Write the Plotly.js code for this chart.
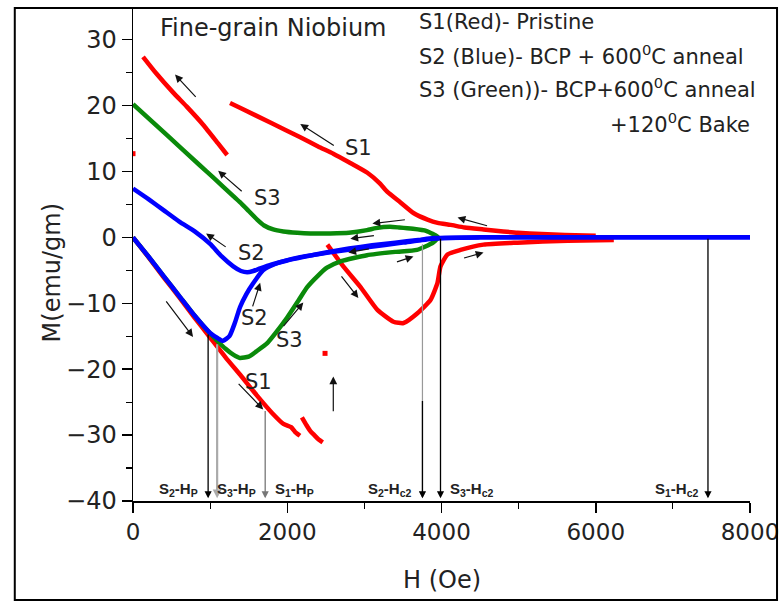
<!DOCTYPE html>
<html><head><meta charset="utf-8">
<script src="https://cdn.plot.ly/plotly-3.0.1.min.js"></script>
<style>html,body{margin:0;padding:0;background:#fff}#chart{width:782px;height:606px}</style>
</head><body><div id="chart"></div><script>
// ---- S1 (red, pristine) ----
const s1VirginH = [0,200,400,600,800,1000,1200,1400,1600,1800,1950,2050,2100,2165];
const s1VirginM = [0,-3.0,-6.1,-9.1,-12.2,-15.2,-18.2,-21.0,-23.9,-26.6,-28.3,-28.8,-29.5,-30.1];
const s1TailH = [2190,2250,2300,2350,2400,2460];
const s1TailM = [-27.3,-28.5,-29.4,-30.0,-30.6,-31.1];
const s1DotH = [0,2490];
const s1DotM = [12.7,-17.6];
const s1ValleyH = [2520,2727,2948,3169,3377,3507,3688,3857,3948,3987,4078,4247,4545,4987,5636,6234];
const s1ValleyM = [-1.1,-4.4,-7.5,-11.0,-12.8,-13.0,-11.5,-9.5,-6.9,-4.4,-2.6,-1.9,-1.1,-0.8,-0.5,-0.4];
const s1DescH = [6000,5600,5300,4987,4800,4545,4300,4117,3950,3818,3636,3468,3299,3200,3039,2800,2597,2400,2169,1800,1400,1258];
const s1DescM = [0.25,0.35,0.5,0.7,0.9,1.2,1.5,1.9,2.2,2.7,3.7,5.3,6.9,8.2,9.8,11.4,12.7,13.8,15.2,17.3,19.6,20.4];
const s1UpperH = [1221,1100,909,700,519,300,130];
const s1UpperM = [12.5,14.3,17.1,19.8,22.0,24.9,27.4];
// ---- S2 (blue) ----
const s2UpH = [0,200,400,600,800,1000,1100,1167,1250,1320,1387,1470,1556,1686,1850,2165,2600,3034,3500,3890,4500,6000,8000];
const s2UpM = [0,-2.9,-5.9,-8.9,-11.9,-14.5,-15.3,-15.7,-15.0,-13.0,-10.6,-8.6,-7.0,-5.0,-4.0,-3.0,-2.2,-1.5,-0.8,-0.2,0,0,0];
const s2DownH = [8000,7500,6500,5500,4500,3900,3700,3400,3100,2800,2500,2200,2000,1800,1650,1560,1480,1400,1300,1150,1000,800,600,400,200,0];
const s2DownM = [0,0,0,0,0,-0.1,-0.4,-0.8,-1.2,-1.7,-2.3,-3.0,-3.5,-4.1,-4.7,-5.1,-5.3,-5.1,-4.4,-2.9,-1.0,0.9,2.4,4.1,5.8,7.4];
// ---- S3 (green) ----
const s3UpH = [0,200,400,600,800,1000,1100,1200,1300,1387,1500,1600,1737,1850,1997,2150,2256,2400,2515,2700,3034,3400,3682,3890,3960];
const s3UpM = [0,-2.9,-5.9,-8.9,-11.9,-14.6,-15.8,-16.9,-17.8,-18.3,-18.1,-17.3,-16.1,-14.5,-12.2,-9.5,-7.6,-5.8,-4.6,-3.6,-2.7,-2.2,-1.9,-0.8,0];
const s3DownH = [3960,3890,3800,3630,3450,3332,3150,3034,2800,2558,2300,2130,1950,1818,1700,1610,1500,1390,1297,1039,869,441,0];
const s3DownM = [0,0.5,1.0,1.3,1.5,1.6,1.4,1.1,0.7,0.6,0.6,0.7,0.9,1.2,1.8,2.7,4.0,5.3,6.3,9.1,10.9,15.5,20.2];
// ---- Hp / Hc2 marker arrows ----
const markH = [974,1091,1714,3753,3987,7455];
const markTop = [-14.5,-16.0,-26.1,-0.8,0,0];
const markColor = ['#000','#aaa','#777','#999','#000','#000'];
const markWidth = [1.3,2.2,1.3,1.2,1.3,1.3];
const markLabels = ['S<sub>2</sub>-H<sub>P</sub>','S<sub>3</sub>-H<sub>P</sub>','S<sub>1</sub>-H<sub>P</sub>','S<sub>2</sub>-H<sub>c2</sub>','S<sub>3</sub>-H<sub>c2</sub>','S<sub>1</sub>-H<sub>c2</sub>'];
const markLabelH = [584,1338,2091,3338,4390,7052];
// ---- direction arrows (head H, head M, tail H, tail M) ----
const dirHeadH = [545,2169,1104,948,1649,2208,779,1688,2597,2922,3104,4208,2818,2792,3636,4545];
const dirHeadM = [24.7,17.2,10.1,0.6,-6.9,-9.9,-15.1,-26.1,-21.1,-9.2,2.1,3.0,-0.2,-2.3,-2.9,-2.3];
const dirTailH = [831,2623,1429,1221,1545,1935,416,1351,2597,2688,3545,4610,3143,3078,3403,4273];
const dirTailM = [21.1,13.8,6.8,-1.6,-10.7,-13.7,-9.5,-22.0,-26.6,-5.7,2.7,1.7,0.3,-1.7,-3.8,-3.2];
// ---- curve labels ----
const curveLabels = ['S1','S3','S2','S2','S3','S1'];
const curveLabelH = [2922,1740,1532,1571,2026,1623];
const curveLabelM = [13.6,5.9,-2.3,-12.3,-15.5,-21.9];
// ---- legend text ----
const legendLines = ['S1(Red)- Pristine','S2 (Blue)- BCP + 600<sup>0</sup>C anneal','S3 (Green))- BCP+600<sup>0</sup>C anneal','+120<sup>0</sup>C Bake'];
const legendH = [3688,3688,3688,6156];
const legendM = [32.7,27.7,22.6,17.4];

const RED='#ff0000', BLUE='#0000ff', GREEN='#0a8a0a';
function line(x,y,c){return {x:x,y:y,mode:'lines',type:'scatter',line:{color:c,width:4.5,shape:'spline',smoothing:0.5},hoverinfo:'skip',showlegend:false};}
const traces = [
  line(s1VirginH,s1VirginM,RED), line(s1TailH,s1TailM,RED), line(s1ValleyH,s1ValleyM,RED),
  line(s1DescH,s1DescM,RED), line(s1UpperH,s1UpperM,RED),
  {x:s1DotH,y:s1DotM,mode:'markers',type:'scatter',marker:{color:RED,size:5,symbol:'square'},showlegend:false,hoverinfo:'skip'},
  line(s3UpH,s3UpM,GREEN), line(s3DownH,s3DownM,GREEN),
  line(s2UpH,s2UpM,BLUE), line(s2DownH,s2DownM,BLUE)
];

const FONT='DejaVu Sans';
const ann = [];
const yBottom = -39.6;
markH.forEach((h,i)=>{
  ann.push({x:h,y:yBottom,ax:h,ay:markTop[i],axref:'x',ayref:'y',xref:'x',yref:'y',text:'',showarrow:true,
    arrowhead:2,arrowsize:i===1?0.8:1.1,arrowwidth:markWidth[i],arrowcolor:markColor[i]});
  ann.push({x:markLabelH[i],y:-38.2,xref:'x',yref:'y',text:'<b>'+markLabels[i]+'</b>',showarrow:false,
    font:{family:'Liberation Sans',size:15,color:'#222'},xanchor:'center',yanchor:'middle'});
});
// black lower portion of S2-Hc2
ann.push({x:markH[3],y:yBottom,ax:markH[3],ay:-24.6,axref:'x',ayref:'y',xref:'x',yref:'y',text:'',showarrow:true,
  arrowhead:2,arrowsize:1.1,arrowwidth:1.3,arrowcolor:'#000'});
dirHeadH.forEach((h,i)=>{
  ann.push({x:h,y:dirHeadM[i],ax:dirTailH[i],ay:dirTailM[i],axref:'x',ayref:'y',xref:'x',yref:'y',text:'',showarrow:true,
    arrowhead:2,arrowsize:1.3,arrowwidth:1.2,arrowcolor:'#111'});
});
curveLabels.forEach((t,i)=>{
  ann.push({x:curveLabelH[i],y:curveLabelM[i],xref:'x',yref:'y',text:t,showarrow:false,
    font:{family:FONT,size:21,color:'#222'},xanchor:'center',yanchor:'middle'});
});
legendLines.forEach((t,i)=>{
  ann.push({x:legendH[i],y:legendM[i],xref:'x',yref:'y',text:t,showarrow:false,
    font:{family:FONT,size:21,color:'#222'},xanchor:'left',yanchor:'middle'});
});
ann.push({x:325,y:31.8,xref:'x',yref:'y',text:'Fine-grain Niobium',showarrow:false,
  font:{family:FONT,size:24,color:'#222'},xanchor:'left',yanchor:'middle'});
// axis titles
ann.push({x:-0.131,y:0.465,xref:'paper',yref:'paper',text:'M(emu/gm)',textangle:-90,showarrow:false,
  font:{family:FONT,size:24,color:'#222'},xanchor:'center',yanchor:'middle'});
ann.push({x:0.5,y:-0.16,xref:'paper',yref:'paper',text:'H (Oe)',showarrow:false,
  font:{family:FONT,size:24,color:'#222'},xanchor:'center',yanchor:'middle'});

const layout = {
  width:782,height:606,margin:{l:133,r:32,t:9,b:105},
  paper_bgcolor:'#fff',plot_bgcolor:'#fff',showlegend:false,
  xaxis:{range:[0,8000],dtick:2000,tick0:0,showgrid:false,zeroline:false,showline:true,linecolor:'#000',linewidth:1.5,
    ticks:'outside',ticklen:10,tickwidth:1.5,tickcolor:'#000',tickfont:{family:FONT,size:23,color:'#222'},
    minor:{dtick:1000,ticks:'outside',ticklen:6,tickwidth:1.2,tickcolor:'#000',showgrid:false}},
  yaxis:{range:[-40,34.65],dtick:10,tick0:0,showgrid:false,zeroline:false,showline:true,linecolor:'#000',linewidth:1.5,
    ticks:'outside',ticklen:10,tickwidth:1.5,tickcolor:'#000',tickfont:{family:FONT,size:24,color:'#222'},
    minor:{dtick:5,ticks:'outside',ticklen:6,tickwidth:1.2,tickcolor:'#000',showgrid:false}},
  annotations:ann,
  shapes:[{type:'rect',xref:'paper',yref:'paper',x0:-0.1916,x1:1.0438,y0:-0.2012,y1:1.002,line:{color:'#000',width:2}}]
};
Plotly.newPlot('chart',traces,layout,{staticPlot:true});
</script></body></html>
